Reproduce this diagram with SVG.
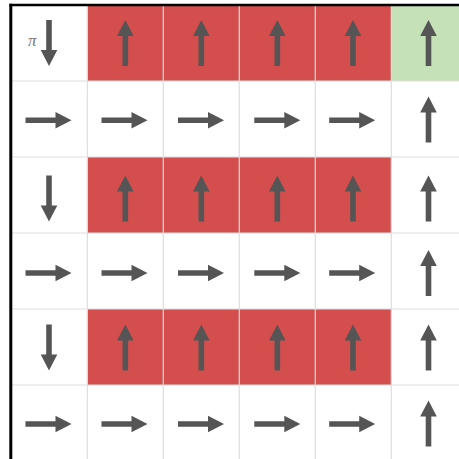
<svg xmlns="http://www.w3.org/2000/svg" xmlns:xlink="http://www.w3.org/1999/xlink" width="459" height="459" viewBox="0 0 459 459">
<style>
.red{fill:#d44e4e}
.green{fill:#c5e1b8}
.grid{stroke:#dedede;stroke-width:1.2;fill:none}
.arrow{fill:#555555}
.border{stroke:#000;fill:none}
.pi{font-family:"Liberation Serif","DejaVu Serif",serif;font-style:italic;font-size:17px;fill:#777}
</style>
<defs>
<path id="up" class="arrow" d="M0,-23 L8.3,-7 L2.8,-7 L2.8,23 L-2.8,23 L-2.8,-7 L-8.3,-7 Z"/>
</defs>
<rect x="0" y="0" width="459" height="459" fill="#fff"/>
<g id="cells">
<rect class="red" x="87.3" y="5" width="304" height="76"/>
<rect class="green" x="391.3" y="5" width="76" height="76"/>
<rect class="red" x="87.3" y="157" width="304" height="76"/>
<rect class="red" x="87.3" y="309" width="304" height="76"/>
</g>
<g id="gridlines">
<path class="grid" d="M87.3,5V459M163.3,5V459M239.3,5V459M315.3,5V459M391.3,5V459"/>
<path class="grid" d="M11,81H459M11,157H459M11,233H459M11,309H459M11,385H459"/>
</g>
<g id="row0">
<g id="c00"><text class="pi" x="28" y="45.5">π</text><use xlink:href="#up" transform="translate(49,43) rotate(180)"/></g>
<g id="c01"><use xlink:href="#up" transform="translate(125.3,43)"/></g>
<g id="c02"><use xlink:href="#up" transform="translate(201.3,43)"/></g>
<g id="c03"><use xlink:href="#up" transform="translate(277.3,43)"/></g>
<g id="c04"><use xlink:href="#up" transform="translate(353,43)"/></g>
<g id="c05"><use xlink:href="#up" transform="translate(428.5,43)"/></g>
</g>
<g id="row1">
<g id="c10"><use xlink:href="#up" transform="translate(48.5,120.3) rotate(90)"/></g>
<g id="c11"><use xlink:href="#up" transform="translate(124.5,120.3) rotate(90)"/></g>
<g id="c12"><use xlink:href="#up" transform="translate(201,120.3) rotate(90)"/></g>
<g id="c13"><use xlink:href="#up" transform="translate(277.3,120.3) rotate(90)"/></g>
<g id="c14"><use xlink:href="#up" transform="translate(352.2,120.3) rotate(90)"/></g>
<g id="c15"><use xlink:href="#up" transform="translate(428.5,119.5)"/></g>
</g>
<g id="row2">
<g id="c20"><use xlink:href="#up" transform="translate(49,198.5) rotate(180)"/></g>
<g id="c21"><use xlink:href="#up" transform="translate(125.3,198.5)"/></g>
<g id="c22"><use xlink:href="#up" transform="translate(201.3,198.5)"/></g>
<g id="c23"><use xlink:href="#up" transform="translate(277.3,198.5)"/></g>
<g id="c24"><use xlink:href="#up" transform="translate(353,198.5)"/></g>
<g id="c25"><use xlink:href="#up" transform="translate(428.5,198.5)"/></g>
</g>
<g id="row3">
<g id="c30"><use xlink:href="#up" transform="translate(48.5,273) rotate(90)"/></g>
<g id="c31"><use xlink:href="#up" transform="translate(124.5,273) rotate(90)"/></g>
<g id="c32"><use xlink:href="#up" transform="translate(201,273) rotate(90)"/></g>
<g id="c33"><use xlink:href="#up" transform="translate(277.3,273) rotate(90)"/></g>
<g id="c34"><use xlink:href="#up" transform="translate(352.2,273) rotate(90)"/></g>
<g id="c35"><use xlink:href="#up" transform="translate(428.5,273)"/></g>
</g>
<g id="row4">
<g id="c40"><use xlink:href="#up" transform="translate(49,347.5) rotate(180)"/></g>
<g id="c41"><use xlink:href="#up" transform="translate(125.3,347.5)"/></g>
<g id="c42"><use xlink:href="#up" transform="translate(201.3,347.5)"/></g>
<g id="c43"><use xlink:href="#up" transform="translate(277.3,347.5)"/></g>
<g id="c44"><use xlink:href="#up" transform="translate(353,347.5)"/></g>
<g id="c45"><use xlink:href="#up" transform="translate(428.5,347.5)"/></g>
</g>
<g id="row5">
<g id="c50"><use xlink:href="#up" transform="translate(48.5,424) rotate(90)"/></g>
<g id="c51"><use xlink:href="#up" transform="translate(124.5,424) rotate(90)"/></g>
<g id="c52"><use xlink:href="#up" transform="translate(201,424) rotate(90)"/></g>
<g id="c53"><use xlink:href="#up" transform="translate(277.3,424) rotate(90)"/></g>
<g id="c54"><use xlink:href="#up" transform="translate(352.2,424) rotate(90)"/></g>
<g id="c55"><use xlink:href="#up" transform="translate(428.5,423.5)"/></g>
</g>
<g id="frame">
<path class="border" stroke-width="2.6" d="M9.5,5H459"/>
<path class="border" stroke-width="3" d="M10.8,3.8V459"/>
</g>
</svg>
